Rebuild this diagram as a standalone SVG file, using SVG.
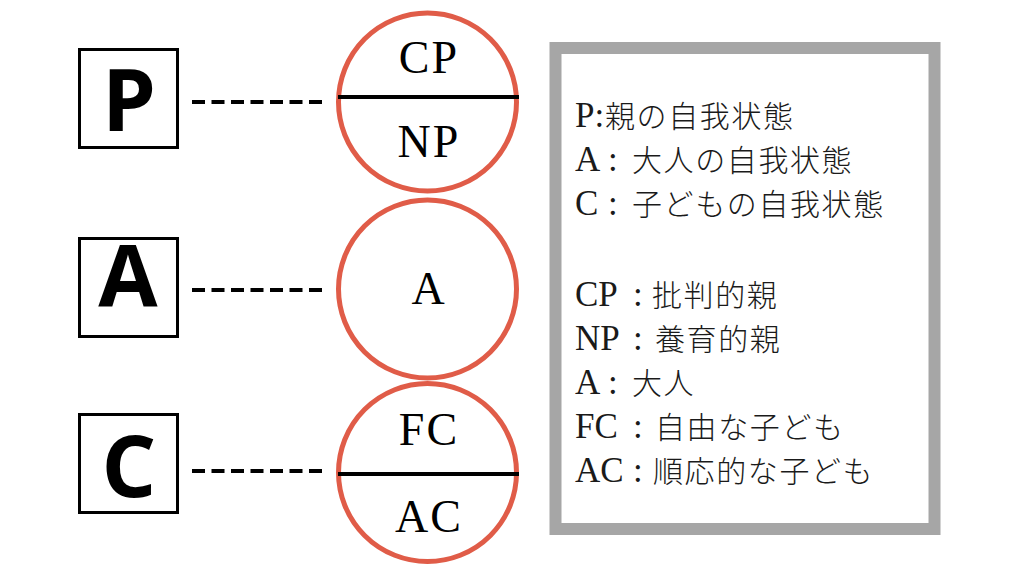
<svg xmlns="http://www.w3.org/2000/svg" width="1024" height="576" viewBox="0 0 1024 576">
<style>
.box{fill:#fff;stroke:#000;stroke-width:3}
.big{font-family:"Open Sans","Noto Sans","Liberation Sans",sans-serif;font-weight:700;font-size:86px;fill:#000;text-anchor:middle}
.ring{fill:#fff;stroke:#e05c48;stroke-width:5}
.div{stroke:#000;stroke-width:4}
.ct{font-family:"Liberation Serif","Noto Sans CJK JP",serif;font-size:46px;letter-spacing:2px;fill:#000;text-anchor:middle}
.dash{stroke:#000;stroke-width:4;stroke-dasharray:13 6.5;fill:none}
.panel{fill:#fff;stroke:#a6a6a6;stroke-width:12}
.lt{font-family:"Liberation Serif","Noto Sans CJK JP",serif;font-size:35px;fill:#1a1a1a}
.jp{font-family:"Noto Sans CJK JP","Noto Sans CJK SC",sans-serif;font-size:30px;font-weight:300;letter-spacing:1.6px}
</style>
<rect width="1024" height="576" fill="#fff"/>
<g id="connectors">
<line class="dash" x1="192" y1="102" x2="322" y2="102"/>
<line class="dash" x1="192" y1="290" x2="322" y2="290"/>
<line class="dash" x1="192" y1="471" x2="322" y2="471"/>
</g>
<g id="node-P">
<rect class="box" x="79.5" y="49.5" width="98" height="98"/>
<text class="big" x="129" y="131">P</text>
</g>
<g id="node-A">
<rect class="box" x="79.5" y="238.5" width="98" height="98"/>
<text class="big" x="128" y="307">A</text>
</g>
<g id="node-C">
<rect class="box" x="79.5" y="414.5" width="98" height="98"/>
<text class="big" x="129" y="497">C</text>
</g>
<g id="node-parent">
<circle class="ring" cx="427.5" cy="102" r="89"/>
<line class="div" x1="338" y1="97" x2="519" y2="97"/>
<text class="ct" x="429" y="73">CP</text>
<text class="ct" x="429" y="157">NP</text>
</g>
<g id="node-adult">
<circle class="ring" cx="427.5" cy="289" r="89"/>
<text class="ct" x="429" y="304">A</text>
</g>
<g id="node-child">
<circle class="ring" cx="427.5" cy="472.5" r="89"/>
<line class="div" x1="338" y1="474" x2="519" y2="474"/>
<text class="ct" x="429" y="445">FC</text>
<text class="ct" x="429" y="532">AC</text>
</g>
<g id="legend">
<rect class="panel" x="555.5" y="48" width="379" height="481"/>
<text class="lt" y="127"><tspan x="575">P:</tspan><tspan class="jp" x="605">親の自我状態</tspan></text>
<text class="lt" y="171"><tspan x="575">A</tspan><tspan x="608">:</tspan><tspan class="jp" x="632">大人の自我状態</tspan></text>
<text class="lt" y="215"><tspan x="575">C</tspan><tspan x="608">:</tspan><tspan class="jp" x="632">子どもの自我状態</tspan></text>
<text class="lt" y="306"><tspan x="575">CP</tspan><tspan x="633">:</tspan><tspan class="jp" x="652">批判的親</tspan></text>
<text class="lt" y="350"><tspan x="575">NP</tspan><tspan x="633">:</tspan><tspan class="jp" x="655">養育的親</tspan></text>
<text class="lt" y="394"><tspan x="575">A</tspan><tspan x="608">:</tspan><tspan class="jp" x="632">大人</tspan></text>
<text class="lt" y="438"><tspan x="575">FC</tspan><tspan x="633">:</tspan><tspan class="jp" x="655">自由な子ども</tspan></text>
<text class="lt" y="482"><tspan x="575">AC</tspan><tspan x="633">:</tspan><tspan class="jp" x="653">順応的な子ども</tspan></text>
</g>
</svg>
